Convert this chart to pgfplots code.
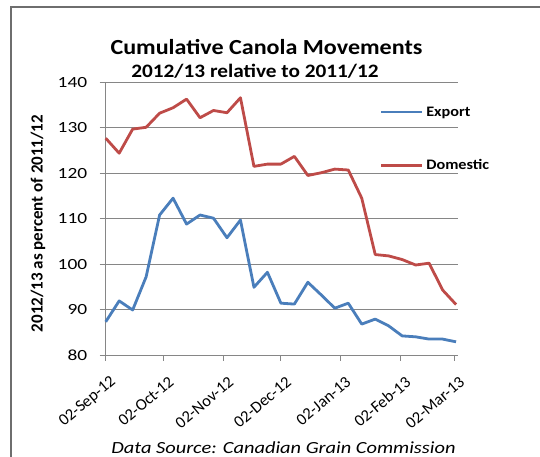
\documentclass[border=0pt]{standalone}
\usepackage{pgfplots}
\pgfplotsset{compat=1.18}
\usepackage{fontspec}
\setmainfont{Carlito}
\newfontfamily\tickfont{Carlito}[FakeStretch=1.25]
\newfontfamily\xtickfont{Carlito}[FakeStretch=1.0]
\newfontfamily\titlefont{Carlito}[FakeStretch=1.12]
\newfontfamily\legfont{Carlito}[FakeStretch=1.12]
\newfontfamily\srcfont{Carlito}[FakeStretch=1.2]
\definecolor{expblue}{RGB}{74,126,187}
\definecolor{domred}{RGB}{190,75,72}
\definecolor{gridgray}{RGB}{134,134,134}
\definecolor{framegray}{RGB}{110,110,110}
\pgfplotstableread{
day export domestic
0   87.3  127.7
7   91.9  124.4
14  89.9  129.7
21  97.2  130.1
28  110.8 133.2
35  114.5 134.4
42  108.8 136.3
49  110.8 132.2
56  110.1 133.8
63  105.8 133.3
70  109.7 136.6
77  94.9  121.5
84  98.2  122.0
91  91.4  122.0
98  91.2  123.7
105 96.0  119.5
112 93.2  120.1
119 90.3  120.9
126 91.4  120.7
133 86.8  114.5
140 87.9  102.1
147 86.4  101.8
154 84.2  101.0
161 84.0  99.8
168 83.5  100.2
175 83.5  94.3
182 82.9  91.1
}\canola
\begin{document}
\begin{tikzpicture}[x=1pt,y=1pt]
\useasboundingbox (0,0) rectangle (540,457);
\draw[color=framegray, line width=1.3pt] (11,-2) -- (11,450) -- (542,450);
\node[anchor=base, font=\titlefont\bfseries\fontsize{21.5}{25}\selectfont] at (266.5,402.5) {Cumulative Canola Movements};
\node[anchor=base, font=\titlefont\bfseries\fontsize{19}{22}\selectfont] at (255,379) {2012/13 relative to 2011/12};
\node[anchor=base, font=\srcfont\itshape\fontsize{17}{20}\selectfont] at (283.5,3.5) {Data Source: Canadian Grain Commission};
\node[rotate=90, font=\bfseries\fontsize{17}{20}\selectfont] at (38,233.5) {2012/13 as percent of 2011/12};
\node[font=\fontsize{17}{20}\selectfont, anchor=base] at (377,459) {y};
\begin{axis}[
  at={(105.7pt,102pt)}, anchor=south west,
  scale only axis, width=352.3pt, height=272.7pt,
  xmin=0, xmax=183, ymin=80, ymax=140,
  ytick={80,90,...,140},
  xtick={0,30,61,91,122,153,181},
  xticklabels={02-Sep-12,02-Oct-12,02-Nov-12,02-Dec-12,02-Jan-13,02-Feb-13,02-Mar-13},
  axis x line*=bottom, axis y line*=left,
  axis line style={draw=gridgray, line width=0.9pt, -},
  tick align=outside, major tick length=6pt,
  tick style={draw=gridgray, line width=0.9pt},
  ymajorgrids, grid style={draw=gridgray, line width=0.9pt},
  /pgf/number format/assume math mode=true,
  yticklabel style={font=\tickfont\fontsize{15.5}{18}\selectfont, xshift=-9pt},
  xticklabel style={rotate=40, anchor=east, inner sep=0pt, font=\xtickfont\fontsize{16.5}{19}\selectfont, xshift=-6pt, yshift=-19.7pt},
  clip=false,
  legend style={draw=none, fill=none, inner sep=0pt,
    at={(rel axis cs:0.778,0.917)}, anchor=north west,
    font=\legfont\bfseries\fontsize{14.5}{17}\selectfont,
    row sep=39pt, column sep=1pt, nodes={inner sep=1.5pt}},
  legend cell align=left,
  legend image code/.code={\draw[#1] (0pt,0pt) -- (41pt,0pt);},
]
\addplot[expblue, line width=2.8pt, line join=round] table[x=day, y=export] {\canola};
\addlegendentry{Export}
\addplot[domred, line width=2.8pt, line join=round] table[x=day, y=domestic] {\canola};
\addlegendentry{Domestic}
\end{axis}
\end{tikzpicture}
\end{document}
